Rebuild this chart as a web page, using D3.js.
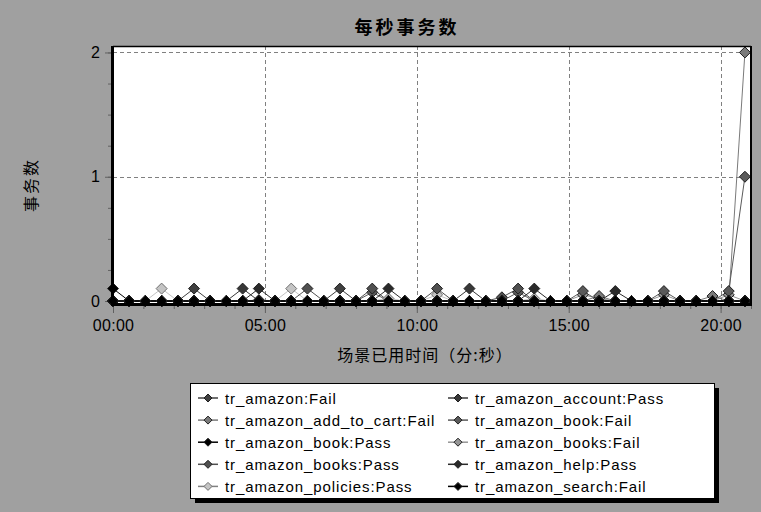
<!DOCTYPE html>
<html><head><meta charset="utf-8">
<script src="https://cdn.jsdelivr.net/npm/d3@7/dist/d3.min.js"></script>
<style>body{margin:0;background:#a0a0a0;}svg{display:block;}</style>
</head><body>
<svg id="c" width="761" height="512"></svg>
<script>
// ---- data ----
const title = "每秒事务数";
const yTitle = "事务数";
const xTitle = "场景已用时间（分:秒）";
const intervalSec = 32; // sample spacing (seconds)
const xTickLabels = ["00:00","05:00","10:00","15:00","20:00"];
const xTickValues = [0,300,600,900,1200];
const yTickValues = [0,1,2];
const seriesNames = [
  "tr_amazon:Fail","tr_amazon_add_to_cart:Fail","tr_amazon_book:Pass","tr_amazon_books:Pass","tr_amazon_policies:Pass",
  "tr_amazon_account:Pass","tr_amazon_book:Fail","tr_amazon_books:Fail","tr_amazon_help:Pass","tr_amazon_search:Fail"
];
const seriesColors = ["#404040","#7a7a7a","#000000","#505050","#c4c4c4","#383838","#5a5a5a","#959595","#2a2a2a","#000000"];
function z(){return new Array(40).fill(0);}
function withPeaks(p){const a=z();for(const k in p)a[+k]=p[k];return a;}
const s_amazonFail     = withPeaks({5:0.1,14:0.1});
const s_addToCartFail  = withPeaks({30:0.04,37:0.04,39:2});
const s_bookPass       = withPeaks({0:0.1});
const s_booksPass      = withPeaks({12:0.1,16:0.1,20:0.1,24:0.03,25:0.1});
const s_policiesPass   = withPeaks({3:0.1,11:0.1,9:0.01,17:0.02,20:0.05,26:0.02});
const s_accountPass    = withPeaks({8:0.1,22:0.1});
const s_bookFail       = withPeaks({16:0.07,25:0.07,29:0.08,34:0.08,38:0.08,39:1});
const s_booksFail      = withPeaks({29:0.05,34:0.05,38:0.05,30:0.02});
const s_helpPass       = withPeaks({9:0.1,17:0.1,26:0.1,31:0.08});
const s_searchFail     = z();
const seriesValues = [s_amazonFail,s_addToCartFail,s_bookPass,s_booksPass,s_policiesPass,
  s_accountPass,s_bookFail,s_booksFail,s_helpPass,s_searchFail];
const drawOrder = [4,7,1,6,3,0,5,8,2,9];

// ---- chart ----
const svg = d3.select("#c");
const L=113,R=751,T=46,B=305;
const x = d3.scaleLinear().domain([0,1260]).range([L,R]);
const y = d3.scaleLinear().domain([-0.032,2.052]).range([B,T]);

svg.append("rect").attr("width",761).attr("height",512).attr("fill","#a0a0a0");
svg.append("rect").attr("x",L).attr("y",T).attr("width",R-L).attr("height",B-T).attr("fill","#fff");

// grid
const grid = svg.append("g").attr("stroke","#808080").attr("stroke-dasharray","4,3").attr("stroke-width",1);
[1,2].forEach(v=>grid.append("line").attr("x1",L).attr("x2",R).attr("y1",Math.round(y(v))+0.5).attr("y2",Math.round(y(v))+0.5));
[300,600,900,1200].forEach(v=>grid.append("line").attr("y1",T).attr("y2",B).attr("x1",Math.round(x(v))+0.5).attr("x2",Math.round(x(v))+0.5));

// axes
const xAxisMinor = d3.axisBottom(x).tickValues(d3.range(0,1261,60)).tickSize(4).tickFormat("");
const xAxis = d3.axisBottom(x).tickValues(xTickValues).tickSize(8).tickFormat((d,i)=>xTickLabels[i]).tickPadding(7);
const gxm = svg.append("g").attr("transform",`translate(0,${B})`).call(xAxisMinor);
const gx = svg.append("g").attr("transform",`translate(0,${B})`).call(xAxis);
[gx,gxm].forEach(g=>{g.select(".domain").remove();g.selectAll("line").attr("stroke","#606060");});
gx.selectAll("text").attr("font-family","Liberation Sans, Arial, sans-serif").attr("font-size",16).attr("letter-spacing","0.3px").attr("fill","#000");

const yAxisMinor = d3.axisLeft(y).tickValues(d3.range(0,2.01,0.25)).tickSize(4).tickFormat("");
const yAxis = d3.axisLeft(y).tickValues(yTickValues).tickSize(7).tickFormat(d3.format("d")).tickPadding(5);
const gym = svg.append("g").attr("transform",`translate(${L-1},0)`).call(yAxisMinor);
const gy = svg.append("g").attr("transform",`translate(${L-1},0)`).call(yAxis);
[gy,gym].forEach(g=>{g.select(".domain").remove();g.selectAll("line").attr("stroke","#606060");});
gy.selectAll("text").attr("font-family","Liberation Sans, Arial, sans-serif").attr("font-size",16).attr("fill","#000");

// series
const line = d3.line().x((d,i)=>x(i*intervalSec)).y(d=>y(d));
const diamond = (cx,cy,r)=>`M${cx},${cy-r}L${cx+r},${cy}L${cx},${cy+r}L${cx-r},${cy}Z`;
const plot = svg.append("g");
drawOrder.forEach(si=>{
  const vals = seriesValues[si];
  plot.append("path").attr("d",line(vals)).attr("fill","none").attr("stroke",seriesColors[si]).attr("stroke-width",1);
});
drawOrder.forEach(si=>{
  const vals = seriesValues[si];
  plot.selectAll(null).data(vals).enter().append("path")
    .attr("d",(d,i)=>diamond(x(i*intervalSec),y(d),5.5))
    .attr("fill",seriesColors[si]).attr("stroke",si===4?"#707070":"#202020").attr("stroke-width",1)
    .attr("stroke-linejoin","round");
});

// frame
svg.append("line").attr("x1",L-0.5).attr("x2",L-0.5).attr("y1",T).attr("y2",B+1).attr("stroke","#000").attr("stroke-width",3);
svg.append("line").attr("x1",L-2).attr("x2",R+1).attr("y1",B-0.5).attr("y2",B-0.5).attr("stroke","#000").attr("stroke-width",3);
svg.append("line").attr("x1",L).attr("x2",R).attr("y1",T+0.5).attr("y2",T+0.5).attr("stroke","#000").attr("stroke-width",1.5);
svg.append("line").attr("x1",R).attr("x2",R).attr("y1",T).attr("y2",B).attr("stroke","#000").attr("stroke-width",2);

// titles
svg.append("text").attr("x",407).attr("y",34).attr("text-anchor","middle")
  .attr("font-family","Noto Sans CJK SC, sans-serif").attr("font-weight","bold").attr("font-size",18).attr("letter-spacing","3px").text(title);
svg.append("text").attr("transform","translate(37,185) rotate(-90)").attr("text-anchor","middle")
  .attr("font-family","Noto Sans CJK SC, sans-serif").attr("font-size",16).attr("letter-spacing","2px").text(yTitle);
svg.append("text").attr("x",425).attr("y",361).attr("text-anchor","middle")
  .attr("font-family","Noto Sans CJK SC, sans-serif").attr("font-size",16).attr("letter-spacing","1px").text(xTitle);

// legend
const LX=190,LY=383,LW=524,LH=115;
svg.append("rect").attr("x",LX+5).attr("y",LY+5).attr("width",LW).attr("height",LH).attr("fill","#000");
svg.append("rect").attr("x",LX+0.5).attr("y",LY+0.5).attr("width",LW).attr("height",LH).attr("fill","#fff").attr("stroke","#000");
seriesNames.forEach((name,i)=>{
  const col = Math.floor(i/5), row = i%5;
  const lx = col===0?198:448;
  const cy = 398 + row*22.1;
  const g = svg.append("g");
  g.append("line").attr("x1",lx).attr("x2",lx+20).attr("y1",cy).attr("y2",cy).attr("stroke",seriesColors[i]===("#c4c4c4")?"#808080":seriesColors[i]).attr("stroke-width",1.5);
  g.append("path").attr("d",diamond(lx+10,cy,4)).attr("fill",seriesColors[i]).attr("stroke",i===4?"#707070":"#202020");
  g.append("text").attr("x",lx+27).attr("y",cy+5.5).attr("font-family","Liberation Sans, Arial, sans-serif")
    .attr("font-size",15).attr("letter-spacing","0.9px").attr("fill","#000").text(name);
});
</script>
</body></html>
